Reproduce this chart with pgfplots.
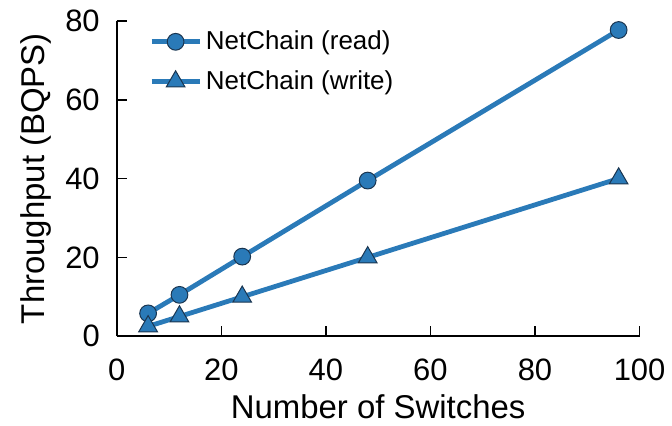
\documentclass[border=0pt]{standalone}
\usepackage{pgfplots}
\pgfplotsset{compat=1.18}
\usepackage{fontspec}
\setmainfont{Liberation Sans}
\definecolor{netblue}{HTML}{2A7AB8}
\definecolor{markedge}{HTML}{1A3550}

\pgfplotstableread{
n   read   write
6   5.8    2.5
12  10.5   5.0
24  20.2   10.0
48  39.5   20.0
96  77.7   40.0
}\netchain

\begin{document}
\begin{tikzpicture}
\begin{axis}[
  scale only axis,
  width=262pt, height=158pt,
  xmin=0, xmax=100, ymin=0, ymax=80,
  xtick={0,20,...,100}, ytick={0,20,...,80},
  axis x line*=bottom, axis y line*=left,
  axis line style={black, line width=0.8pt},
  tick style={black, line width=0.8pt},
  tick align=inside,
  major tick length=5pt,
  /pgf/number format/assume math mode=true,
  ticklabel style={font=\fontsize{15.5}{18}\selectfont},
  xticklabel style={yshift=-8pt},
  yticklabel style={xshift=-5pt},
  xlabel={Number of Switches},
  ylabel={Throughput (BQPS)},
  label style={font=\fontsize{16.5}{19}\selectfont},
  xlabel style={yshift=0pt},
  ylabel style={yshift=0pt},
  legend style={draw=none, fill=none, at={(0.05,0.995)}, anchor=north west,
    font=\fontsize{13}{15}\selectfont, row sep=5pt},
  legend image code/.code={
    \draw[mark repeat=2, mark phase=2]
      plot coordinates {(0pt,0pt) (12pt,0pt) (24pt,0pt)};
  },
  legend cell align=left,
  clip=false,
]
\addplot[netblue, line width=2.4pt, mark=*, mark size=4.2pt,
  mark options={fill=netblue, draw=markedge, line width=0.5pt, solid}]
  table[x=n, y=read] {\netchain};
\addlegendentry{NetChain (read)}
\addplot[netblue, line width=2.4pt, mark=triangle*, mark size=5.4pt,
  mark options={fill=netblue, draw=markedge, line width=0.5pt, solid}]
  table[x=n, y=write] {\netchain};
\addlegendentry{NetChain (write)}
\end{axis}
\path ([shift={(-58.5pt,-43pt)}]current axis.south west)
  rectangle ([shift={(15.5pt,10.5pt)}]current axis.north east);
\end{tikzpicture}
\end{document}
